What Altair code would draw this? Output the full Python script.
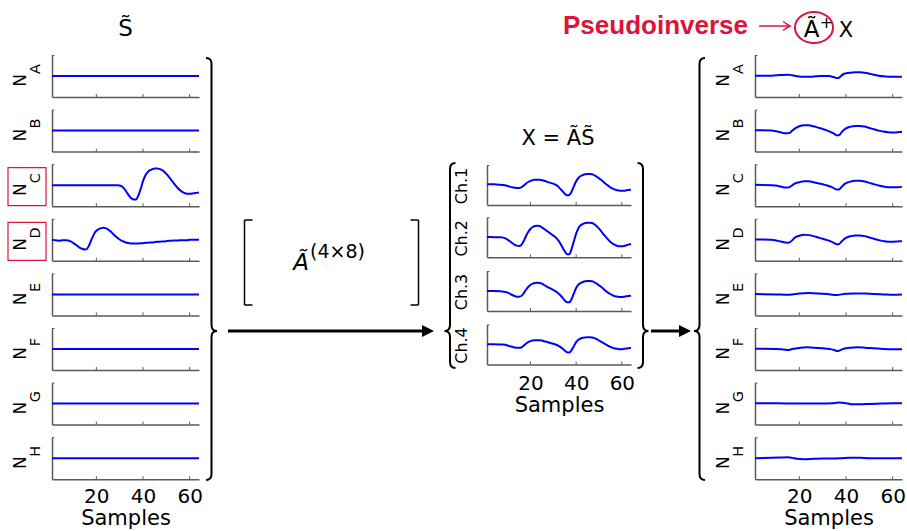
import altair as alt
import pandas as pd

# ---------------- data ----------------
ROW_NAMES = ["A", "B", "C", "D", "E", "F", "G", "H"]
CH_NAMES = ["Ch.1", "Ch.2", "Ch.3", "Ch.4"]
TICK_VALUES = [20, 40, 60]
SAMPLES_ALL = list(range(1, 65))

# S~ (sources): flat rows
FLAT_S = [1, 64]
FLAT_V = [0, 0]
# N_C
NC_S = [1, 29] + list(range(30, 65))
NC_V = [0, 0, -1, -4, -11, -21, -31, -39, -43, -43, -31, -11, 12, 29, 39, 45, 48, 50, 50, 49,
        46, 41, 34, 26, 17, 8, -1, -9, -16, -21, -24, -26, -26, -25, -24, -23, -22]
# N_D
ND_V = [0, -1, -2, -3, -2, -1, -1, -2, -5, -9, -14, -19, -24, -27, -29, -27, -15, 2, 17, 27,
        32, 35, 36, 35, 31, 26, 19, 12, 6, 1, -3, -6, -9, -10, -11, -11, -11, -11, -10, -10,
        -9, -9, -8, -8, -7, -6, -6, -5, -5, -4, -3, -3, -2, -2, -2, -1, -1, -1, -1, 0,
        0, 0, 0, 1]

# X = A S (channels)
CH1_S = [1, 2, 4, 6, 8, 10, 12, 14, 15, 16, 17, 18, 19, 20, 22, 24, 26, 28, 30] + list(range(31, 65))
CH1_V = [2, 2, 2, 1, 0, -3, -7, -9, -9, -7, -2, 4, 9, 12, 16, 16, 13, 8, 4,
         1, -4, -11, -18, -26, -31, -30, -20, -4, 11, 21, 27, 30, 32, 33, 33, 32, 29, 25, 20,
         15, 9, 3, -2, -7, -11, -14, -16, -17, -17, -17, -16, -15, -14]
CH2_S = [1, 3, 5, 7] + list(range(8, 65))
CH2_V = [1, 1, 0, 0,
         -1, -3, -7, -12, -17, -22, -25, -26, -23, -12, 3, 16, 25, 31, 34, 35, 34, 30, 25, 20,
         15, 10, 5, 0, -8, -18, -30, -42, -51, -51, -35, -12, 11, 27, 36, 40, 43, 44, 44, 43,
         39, 33, 26, 18, 9, 1, -7, -14, -19, -23, -26, -27, -27, -26, -24, -22, -20]
CH3_S = [1, 4, 7] + list(range(8, 65))
CH3_V = [0, 0, -1,
         -2, -3, -5, -8, -12, -15, -17, -17, -15, -7, 3, 12, 18, 22, 24, 25, 24, 22, 18, 14,
         10, 7, 3, -1, -6, -12, -20, -28, -34, -34, -24, -7, 9, 19, 24, 27, 29, 30, 30, 29,
         26, 22, 17, 12, 6, 0, -5, -9, -13, -16, -17, -18, -18, -17, -16, -15, -14]
CH4_S = [1, 4, 7] + list(range(9, 65))
CH4_V = [1, 1, 0,
         -1, -3, -5, -7, -9, -10, -10, -9, -4, 2, 7, 10, 12, 13, 13, 13, 12, 10, 8,
         6, 4, 2, 0, -3, -7, -12, -18, -23, -24, -17, -5, 7, 14, 18, 20, 21, 22, 22, 21,
         19, 16, 12, 8, 4, 0, -4, -7, -10, -12, -13, -14, -14, -13, -12, -11, -10]

# Pseudoinverse reconstruction
RA_S = [1, 4, 8, 12, 15, 17, 19, 21, 23, 25, 27, 29, 31, 33, 34, 35, 36, 37, 38, 39, 40,
        42, 44, 46, 48, 50, 52, 54, 56, 58, 60, 62, 64]
RA_V = [1, 1, 1, 3, 4, 2, -1, -2, -2, -2, -1, 0, 0, 0, -2, -4, -6, -5, 1, 6, 8,
        10, 11, 11, 10, 7, 4, 1, -1, -2, -2, -2, -2]
RB_S = [1, 4, 8, 10, 12, 14, 15, 16, 17, 18, 19, 20, 22, 24, 26, 28, 30, 32, 34, 35, 36,
        37, 38, 39, 40, 42, 44, 46, 48, 50, 52, 54, 56, 58, 60, 62, 64]
RB_V = [1, 1, 0, -2, -5, -8, -8, -6, 0, 6, 10, 13, 16, 16, 13, 9, 5, 0, -6, -10, -14,
        -14, -6, 2, 7, 12, 14, 14, 12, 8, 4, 0, -3, -5, -6, -5, -4]
RC_S = [1, 8, 10, 12, 14, 15, 16, 17, 18, 20, 22, 24, 26, 28, 30, 32, 34, 36, 37, 38,
        39, 40, 42, 44, 46, 48, 50, 52, 54, 56, 58, 60, 62, 64]
RC_V = [1, 0, -1, -4, -7, -7, -5, 0, 5, 9, 12, 12, 9, 6, 3, -1, -6, -13, -13, -6,
        1, 6, 11, 13, 13, 11, 7, 3, -1, -4, -6, -6, -6, -5]
RD_S = [1, 8, 10, 12, 14, 15, 16, 17, 18, 20, 22, 24, 26, 28, 30, 32, 34, 36, 37, 38,
        39, 40, 42, 44, 46, 48, 50, 52, 54, 56, 58, 60, 62, 64]
RD_V = [1, 0, -2, -5, -8, -9, -7, -1, 6, 12, 15, 14, 11, 7, 3, -1, -6, -13, -13, -6,
        1, 6, 11, 13, 13, 11, 7, 3, -1, -4, -6, -6, -5, -4]
RE_S = [1, 10, 15, 17, 20, 24, 28, 32, 36, 37, 40, 44, 48, 52, 56, 60, 64]
RE_V = [1, 0, -1, 0, 3, 4, 3, 1, -2, -1, 2, 3, 3, 1, 0, -1, 0]
RF_S = [1, 10, 14, 15, 17, 20, 23, 26, 30, 33, 35, 36, 37, 39, 42, 45, 48, 52, 56, 60, 64]
RF_V = [1, 0, -2, -3, 0, 3, 5, 4, 2, 0, -3, -6, -5, 1, 4, 5, 4, 2, 0, -1, -1]
RG_S = [1, 10, 20, 30, 34, 37, 40, 43, 46, 50, 55, 60, 64]
RG_V = [1, 1, 0, 0, 1, 3, 1, -2, -2, -1, 0, 1, 1]
RH_S = [1, 8, 12, 15, 17, 19, 22, 26, 30, 35, 38, 42, 46, 50, 55, 60, 64]
RH_V = [0, 1, 2, 3, 1, -2, -3, -2, -1, -1, 0, 1, 1, 0, 0, 0, 0]

LEFT_SERIES = [(FLAT_S, FLAT_V), (FLAT_S, FLAT_V), (NC_S, NC_V), (SAMPLES_ALL, ND_V),
               (FLAT_S, FLAT_V), (FLAT_S, FLAT_V), (FLAT_S, FLAT_V), (FLAT_S, FLAT_V)]
MID_SERIES = [(CH1_S, CH1_V), (CH2_S, CH2_V), (CH3_S, CH3_V), (CH4_S, CH4_V)]
RIGHT_SERIES = [(RA_S, RA_V), (RB_S, RB_V), (RC_S, RC_V), (RD_S, RD_V),
                (RE_S, RE_V), (RF_S, RF_V), (RG_S, RG_V), (RH_S, RH_V)]
BOXED_ROWS = ["C", "D"]

# ---------------- styling / layout ----------------
BLUE = "#0000ff"
GREY = "#5a5a5a"
CRIMSON = "#dc143c"
FONT = "DejaVu Sans"
PANEL_H = 42
ROW_GAP = 12.6
COL_W = [147, 288, 144, 124, 147]
TOP = 55
LEFT = 52
DECO_OX = LEFT + COL_W[0]
DECO_OY = TOP
MID_ROW0 = 2
MID_SHIFT = [0.8, -1.5, -2.4, -3.5]
MID_H = 40

one = pd.DataFrame({"k": [0]})


def panel(samples, values, width, half, bottom, shift=0.0, inner_h=PANEL_H,
          label_pad=8, extra=()):
    df = pd.DataFrame({"Samples": samples, "v": values})
    y_top = shift
    y_bot = shift + inner_h
    xs = alt.Scale(domain=[1, 64], nice=False, zero=False)
    ys = alt.Scale(domain=[-half, half], range=[y_bot, y_top], nice=False, zero=False)
    xaxis_kw = dict(values=TICK_VALUES, ticks=False, grid=False, domainColor=GREY,
                    domainWidth=1.5, offset=y_bot - PANEL_H, labels=bottom)
    if bottom:
        xaxis_kw.update(labelFont=FONT, labelFontSize=20, labelColor="black",
                        labelPadding=label_pad, title="Samples", titleFont=FONT,
                        titleFontSize=21, titleFontWeight="normal", titleColor="black",
                        titlePadding=1)
    else:
        xaxis_kw.update(title=None)
    xaxis = alt.Axis(**xaxis_kw)
    line = alt.Chart(df).mark_line(color=BLUE, strokeWidth=2, interpolate="monotone").encode(
        x=alt.X("Samples:Q", scale=xs, axis=xaxis),
        y=alt.Y("v:Q", scale=ys, axis=alt.Axis(ticks=False, labels=False, grid=False,
                                               domainColor=GREY, domainWidth=1.5, title=None)),
    )
    ticks = alt.Chart(pd.DataFrame({"Samples": TICK_VALUES})).mark_rule(
        color=GREY, strokeWidth=1).encode(
        x=alt.X("Samples:Q", scale=xs, axis=xaxis),
        y=alt.value(y_bot), y2=alt.value(y_bot - 3))
    top_tick = alt.Chart(one).mark_rule(color=GREY, strokeWidth=1).encode(
        x=alt.value(0), x2=alt.value(2.5), y=alt.value(y_top + 0.5), y2=alt.value(y_top + 0.5))
    return alt.layer(line, ticks, top_tick, *extra).properties(width=width, height=PANEL_H)


def n_label(letter, boxed):
    layers = [
        alt.Chart(one).mark_text(text="N", angle=270, font=FONT, fontSize=17,
                                 align="center", baseline="alphabetic", color="black").encode(
            x=alt.value(-26), y=alt.value(25.5)),
        alt.Chart(one).mark_text(text=letter, angle=270, font=FONT, fontSize=14.5,
                                 align="center", baseline="alphabetic", color="black").encode(
            x=alt.value(-12), y=alt.value(14)),
    ]
    if boxed:
        layers.append(alt.Chart(one).mark_rect(fill="transparent", stroke=CRIMSON,
                                               strokeWidth=1.2).encode(
            x=alt.value(-44), x2=alt.value(-6), y=alt.value(3.5), y2=alt.value(41.5)))
    return layers


def placeholder(width):
    return alt.Chart(one).mark_text(text="").encode(
        x=alt.value(0), y=alt.value(0)).properties(width=width, height=PANEL_H)


def brace_path(h_cusp, h_total, w, r=6):
    # "}" shaped when w > 0, "{" when w < 0; origin at top of the vertical stroke
    return (f"M {-w} 0 Q 0 0 0 {r} L 0 {h_cusp - r} Q 0 {h_cusp} {w} {h_cusp} "
            f"Q 0 {h_cusp} 0 {h_cusp + r} L 0 {h_total - r} Q 0 {h_total} {-w} {h_total}")


def deco_cell():
    L = []

    def at(x, y):
        return dict(x=alt.value(x - DECO_OX), y=alt.value(y - DECO_OY))

    def text(t, x, y, **kw):
        kw.setdefault("font", FONT)
        kw.setdefault("color", "black")
        L.append(alt.Chart(one).mark_text(text=t, **kw).encode(**at(x, y)))

    def rule(x1, y1, x2, y2, color="black", w=1.5, **kw):
        L.append(alt.Chart(one).mark_rule(color=color, strokeWidth=w, **kw).encode(
            x=alt.value(x1 - DECO_OX), y=alt.value(y1 - DECO_OY),
            x2=alt.value(x2 - DECO_OX), y2=alt.value(y2 - DECO_OY)))

    def shape(path, x, y, color="black", w=2.0, filled=False):
        L.append(alt.Chart(one).mark_point(shape=path, size=4, filled=filled, color=color,
                                           strokeWidth=w, opacity=1).encode(**at(x, y)))

    # canvas anchors (invisible) so that the page origin is fixed
    rule(0.1, 0.1, 0.1, 0.1, opacity=0)
    rule(906.9, 530.9, 906.9, 530.9, opacity=0)

    # titles
    text("S\u0303", 125.5, 36, fontSize=23, align="center", baseline="alphabetic")
    text("X = \u00c3S\u0303", 558, 145, fontSize=21, align="center", baseline="alphabetic")
    text("Pseudoinverse", 563, 34, font="Liberation Sans", fontSize=26, fontWeight="bold",
         color=CRIMSON, align="left", baseline="alphabetic")
    # thin red arrow
    rule(759, 26, 789, 26, color=CRIMSON, w=1.5)
    shape("M -7 -4.5 Q -2 -1 0 0 Q -2 1 -7 4.5", 790, 26, color=CRIMSON, w=1.5)
    shape("M -19 0 A 19 15.5 0 1 1 19 0 A 19 15.5 0 1 1 -19 0 Z", 814, 27.5,
          color=CRIMSON, w=2)
    text("\u00c3", 811.5, 37, fontSize=23, align="center", baseline="alphabetic")
    text("+", 826.5, 27.5, fontSize=16, align="center", baseline="alphabetic")
    text("X", 846, 37, fontSize=21, align="center", baseline="alphabetic")

    # mixing matrix
    rule(244.5, 220, 244.5, 305)
    rule(244.5, 220, 252.5, 220)
    rule(244.5, 305, 252.5, 305)
    rule(418.5, 220, 418.5, 305)
    rule(410.5, 220, 418.5, 220)
    rule(410.5, 305, 418.5, 305)
    text("\u00c3", 301, 270, fontSize=23, fontStyle="italic", align="center",
         baseline="alphabetic")
    text("(4\u00d78)", 310, 258, fontSize=19, align="left", baseline="alphabetic")

    # arrows
    rule(228, 331, 424, 331, w=3)
    shape("M 0 0 L -12 -6 L -12 6 Z", 434, 331, filled=True, w=0)
    rule(651, 331, 682, 331, w=3)
    shape("M 0 0 L -12 -6 L -12 6 Z", 691, 331, filled=True, w=0)

    # braces
    shape(brace_path(331 - 58, 480 - 58, 5.5), 211.5, 58)
    shape(brace_path(331 - 163, 368 - 163, -5.5), 450, 163)
    shape(brace_path(331 - 163, 368 - 163, 5.5), 643, 163)
    shape(brace_path(331 - 58, 480 - 58, -5.5), 699.5, 58)

    return alt.layer(*L).properties(width=COL_W[1], height=PANEL_H)


cells = []
for r in range(8):
    # left column: S~
    s, v = LEFT_SERIES[r]
    letter = ROW_NAMES[r]
    cells.append(panel(s, v, COL_W[0], 63, r == 7, label_pad=7,
                       extra=n_label(letter, letter in BOXED_ROWS)))
    # gap column 1
    cells.append(deco_cell() if r == 0 else placeholder(COL_W[1]))
    # middle column: X
    m = r - MID_ROW0
    if 0 <= m < 4:
        s, v = MID_SERIES[m]
        sh = MID_SHIFT[m]
        ch = alt.Chart(one).mark_text(text=CH_NAMES[m], angle=270, font=FONT, fontSize=16,
                                      align="center", baseline="alphabetic",
                                      color="black").encode(
            x=alt.value(-20.5), y=alt.value(sh + MID_H / 2 + 1))
        cells.append(panel(s, v, COL_W[2], 60, m == 3, shift=sh, inner_h=MID_H,
                           label_pad=9, extra=[ch]))
    else:
        cells.append(placeholder(COL_W[2]))
    # gap column 3
    cells.append(placeholder(COL_W[3]))
    # right column: reconstruction
    s, v = RIGHT_SERIES[r]
    cells.append(panel(s, v, COL_W[4], 63, r == 7, label_pad=7,
                       extra=n_label(letter, False)))

chart = alt.concat(*cells, columns=5, spacing={"row": ROW_GAP, "column": 0},
                   bounds="flush").configure_view(strokeWidth=0).properties(
    padding=0, background="white")

chart.save("out.html", embed_options={"renderer": "svg", "actions": False})
